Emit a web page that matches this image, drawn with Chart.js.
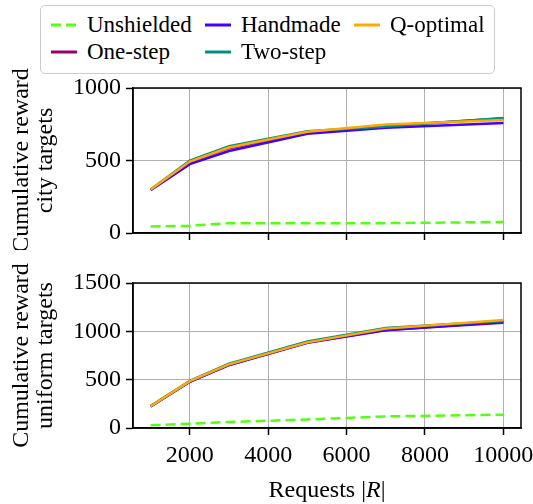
<!DOCTYPE html>
<html>
<head>
<meta charset="utf-8">
<script src="https://cdn.jsdelivr.net/npm/chart.js@4"></script>
<style>
  body { margin: 0; background: #fff; }
  #wrap { position: relative; width: 533px; height: 504px; font-family: "Liberation Serif", "DejaVu Serif", serif; }
  canvas { position: absolute; left: 0; }
  #legend {
    position: absolute; left: 40px; top: 5px; width: 443px; height: 62px;
    padding: 5px 0 0 10px; background: #fff; border: 1.5px solid #ccc; border-radius: 5px;
    display: grid; grid-template-rows: 27px 27px; grid-template-columns: 154px 149px auto;
    grid-auto-flow: column; font-size: 23px; color: #000;
  }
  #legend .item { display: flex; align-items: center; white-space: nowrap; }
  #legend svg { margin-right: 10px; flex: none; }
  #xtitle {
    position: absolute; left: 133px; width: 388px; top: 476px; text-align: center;
    font-size: 24px; line-height: 26px; color: #000;
  }
</style>
</head>
<body>
<div id="wrap">
  <canvas id="cityChart" width="533" height="250" style="top:0"></canvas>
  <canvas id="uniformChart" width="533" height="254" style="top:250px"></canvas>
  <div id="legend"></div>
  <div id="xtitle">Requests |<i>R</i>|</div>
</div>
<script>
// requests |R| on the x axis
const requests = [1000, 2000, 3000, 5000, 7000, 10000];
const xTicks = [2000, 4000, 6000, 8000, 10000];

// plot order (later = drawn on top), same as legend order
const seriesNames = ['Unshielded', 'One-step', 'Handmade', 'Two-step', 'Q-optimal'];
const seriesColors = ['#55ff11', '#990066', '#4400ff', '#009080', '#ffaa00'];

// city targets
const cityUnshielded = [45, 50, 68, 67, 68, 76];
const cityOneStep    = [298, 490, 585, 695, 740, 790];
const cityHandmade   = [295, 475, 565, 685, 726, 758];
const cityTwoStep    = [300, 500, 598, 702, 735, 793];
const cityQOptimal   = [300, 493, 590, 698, 748, 780];
const cityTicks = [0, 500, 1000];

// uniform targets
const uniUnshielded = [28, 45, 62, 88, 120, 138];
const uniOneStep    = [224, 480, 650, 884, 1015, 1088];
const uniHandmade   = [222, 478, 652, 882, 1012, 1098];
const uniTwoStep    = [228, 488, 665, 895, 1035, 1108];
const uniQOptimal   = [225, 485, 658, 886, 1028, 1118];
const uniTicks = [0, 500, 1000, 1500];

Chart.defaults.font.family = '"Liberation Serif", "DejaVu Serif", serif';
Chart.defaults.color = '#000';

const framePlugin = {
  id: 'frame',
  afterDatasetsDraw(chart) {
    const a = chart.chartArea, ctx = chart.ctx;
    ctx.save();
    ctx.strokeStyle = '#000';
    ctx.lineWidth = 1.5;
    ctx.strokeRect(a.left, a.top, a.right - a.left, a.bottom - a.top);
    ctx.restore();
  }
};

function makeChart(id, values, yTicks, title, showX, padTop, xHeight) {
  const datasets = values.map((v, i) => ({
    label: seriesNames[i],
    data: v.map((y, j) => ({ x: requests[j], y: y })),
    borderColor: seriesColors[i],
    borderWidth: 2.5,
    borderDash: i === 0 ? [10, 5] : [],
    pointRadius: 0,
    tension: 0,
    order: values.length - i
  }));

  const grid = { color: '#b0b0b0', lineWidth: 1, tickLength: 7, tickColor: '#000', tickWidth: 1.5 };

  return new Chart(id, {
    type: 'line',
    data: { datasets: datasets },
    options: {
      responsive: false,
      animation: false,
      layout: { padding: { top: padTop, right: 12, left: 0, bottom: 0 } },
      plugins: { legend: { display: false }, tooltip: { enabled: false } },
      scales: {
        x: {
          type: 'linear', min: 550, max: 10450,
          afterBuildTicks: s => { s.ticks = xTicks.map(v => ({ value: v })); },
          afterFit: s => { s.height = xHeight; s.paddingLeft = 0; s.paddingRight = 0; },
          ticks: { display: showX, font: { size: 24 }, padding: 6, maxRotation: 0, callback: v => String(v) },
          grid: grid,
          border: { color: '#000', width: 1.5 }
        },
        y: {
          min: yTicks[0], max: yTicks[yTicks.length - 1],
          afterBuildTicks: s => { s.ticks = yTicks.map(v => ({ value: v })); },
          afterFit: s => { s.width = 133; s.paddingTop = 0; s.paddingBottom = 0; },
          ticks: { font: { size: 24 }, padding: 5, callback: v => String(v) },
          grid: grid,
          border: { color: '#000', width: 1.5 },
          title: { display: true, text: title, font: { size: 24, lineHeight: 1.0 }, padding: { top: 10 } }
        }
      }
    },
    plugins: [framePlugin]
  });
}

makeChart('cityChart',
  [cityUnshielded, cityOneStep, cityHandmade, cityTwoStep, cityQOptimal],
  cityTicks, ['Cumulative reward', 'city targets'], false, 88, 17);

makeChart('uniformChart',
  [uniUnshielded, uniOneStep, uniHandmade, uniTwoStep, uniQOptimal],
  uniTicks, ['Cumulative reward', 'uniform targets'], true, 33, 76);

// legend
const legend = document.getElementById('legend');
seriesNames.forEach((name, i) => {
  const dash = i === 0 ? ' stroke-dasharray="10 5"' : '';
  legend.insertAdjacentHTML('beforeend',
    '<div class="item"><svg width="26" height="6"><line x1="0" y1="3" x2="26" y2="3" stroke="' +
    seriesColors[i] + '" stroke-width="3"' + dash + '/></svg>' + name + '</div>');
});
</script>
</body>
</html>
